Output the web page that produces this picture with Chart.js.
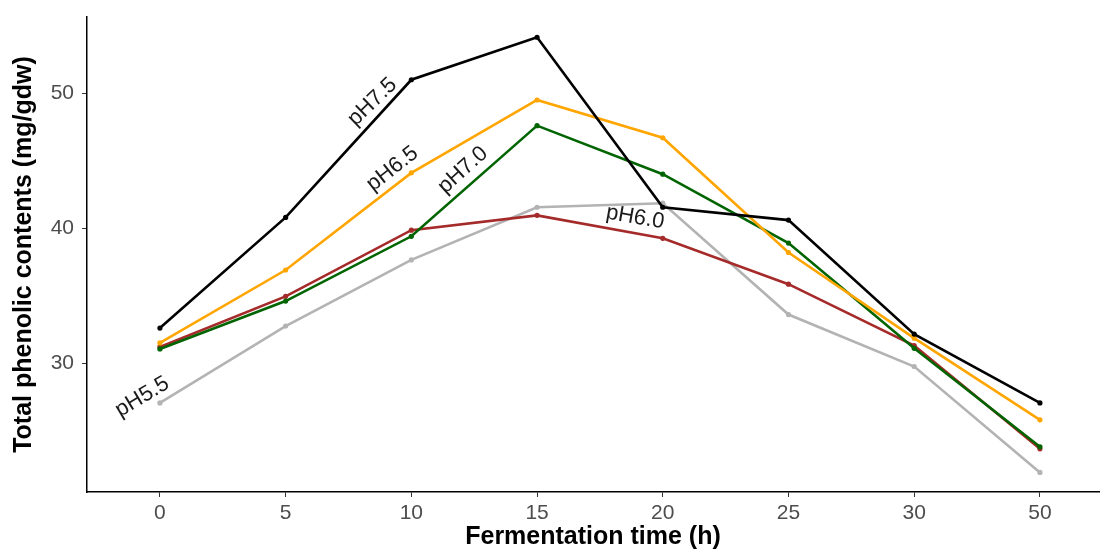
<!DOCTYPE html>
<html>
<head>
<meta charset="utf-8">
<script src="https://cdn.jsdelivr.net/npm/chart.js@4.4.1/dist/chart.umd.min.js"></script>
<style>
  html, body { margin: 0; padding: 0; background: #fff; }
  #wrap { width: 1103px; height: 558px; position: relative; }
</style>
</head>
<body>
<div id="wrap"><canvas id="c"></canvas></div>
<script>
(function () {
    'use strict';

    var categories = ['0', '5', '10', '15', '20', '25', '30', '50'];
    var yTicks = [30, 40, 50];

    var ph75 = [32.6, 40.8, 51.0, 54.15, 41.55, 40.6, 32.15, 27.05];
    var ph65 = [31.5, 36.9, 44.1, 49.5, 46.7, 38.2, 31.85, 25.8];
    var ph70 = [31.05, 34.6, 39.4, 47.6, 44.0, 38.9, 31.1, 23.8];
    var ph60 = [31.2, 34.95, 39.85, 40.95, 39.25, 35.85, 31.3, 23.65];
    var ph55 = [27.05, 32.75, 37.65, 41.55, 41.85, 33.6, 29.75, 21.9];

    var seriesNames = ['pH7.5', 'pH6.5', 'pH7.0', 'pH6.0', 'pH5.5'];
    var seriesColors = ['#000000', '#ffa500', '#006400', '#a52a2a', '#b3b3b3'];

    // direct labels: [x index, y value, rotation in degrees]
    var labelPos = [
        [1.69, 49.35, -44],
        [1.85, 44.4, -38],
        [2.41, 44.3, -42],
        [3.78, 40.8, 10],
        [-0.14, 27.5, -31]
    ];

    function toPoints(values) {
        return values.map(function (v, i) {
            return { x: i, y: v };
        });
    }

    var allValues = [ph75, ph65, ph70, ph60, ph55];
    var datasets = allValues.map(function (vals, i) {
        return {
            label: seriesNames[i],
            data: toPoints(vals),
            borderColor: seriesColors[i],
            backgroundColor: seriesColors[i],
            borderWidth: 2.6,
            pointRadius: 2.6,
            pointBorderWidth: 0,
            tension: 0,
            order: i === 4 ? 10 : i
        };
    });

    var directLabels = {
        id: 'directLabels',
        afterDatasetsDraw: function (chart) {
            var ctx = chart.ctx;
            var xs = chart.scales.x;
            var ys = chart.scales.y;
            ctx.save();
            ctx.font = '22px "Liberation Sans", Arial, sans-serif';
            ctx.fillStyle = '#1a1a1a';
            ctx.textAlign = 'center';
            ctx.textBaseline = 'middle';
            labelPos.forEach(function (p, i) {
                ctx.save();
                ctx.translate(xs.getPixelForValue(p[0]), ys.getPixelForValue(p[1]));
                ctx.rotate(p[2] * Math.PI / 180);
                ctx.fillText(seriesNames[i], 0, 0);
                ctx.restore();
            });
            ctx.restore();
        }
    };

    var tickFont = { family: '"Liberation Sans", Arial, sans-serif', size: 21 };
    var titleFont = { family: '"Liberation Sans", Arial, sans-serif', size: 25, weight: 'bold' };

    new Chart(document.getElementById('c').getContext('2d'), {
        type: 'line',
        data: { datasets: datasets },
        options: {
            responsive: true,
            maintainAspectRatio: false,
            animation: false,
            layout: { padding: { top: 17, right: 0, left: 0, bottom: 0 } },
            plugins: {
                legend: { display: false },
                tooltip: { enabled: false }
            },
            scales: {
                x: {
                    type: 'linear',
                    min: -0.58,
                    max: 7.47,
                    afterBuildTicks: function (scale) {
                        scale.ticks = categories.map(function (c, i) {
                            return { value: i };
                        });
                    },
                    afterFit: function (scale) {
                        scale.height = 66;
                        scale.paddingLeft = 0;
                        scale.paddingRight = 0;
                    },
                    ticks: {
                        color: '#4d4d4d',
                        font: tickFont,
                        padding: 4,
                        maxRotation: 0,
                        callback: function (value) {
                            return categories[value];
                        }
                    },
                    grid: { drawOnChartArea: false, drawTicks: true, tickLength: 5, color: '#333' },
                    border: { display: true, color: '#000', width: 1.5 },
                    title: {
                        display: true,
                        text: 'Fermentation time (h)',
                        color: '#000',
                        font: titleFont,
                        padding: { top: 0, bottom: 6 }
                    }
                },
                y: {
                    type: 'linear',
                    min: 20.45,
                    max: 55.65,
                    afterBuildTicks: function (scale) {
                        scale.ticks = yTicks.map(function (v) {
                            return { value: v };
                        });
                    },
                    afterFit: function (scale) {
                        scale.width = 87;
                        scale.paddingTop = 0;
                        scale.paddingBottom = 0;
                    },
                    ticks: {
                        color: '#4d4d4d',
                        font: tickFont,
                        padding: 8
                    },
                    grid: { drawOnChartArea: false, drawTicks: true, tickLength: 5, color: '#333' },
                    border: { display: true, color: '#000', width: 1.5 },
                    title: {
                        display: true,
                        text: 'Total phenolic contents (mg/gdw)',
                        color: '#000',
                        font: titleFont,
                        padding: { top: 9, bottom: 0 }
                    }
                }
            }
        },
        plugins: [directLabels]
    });
})();
</script>
</body>
</html>
